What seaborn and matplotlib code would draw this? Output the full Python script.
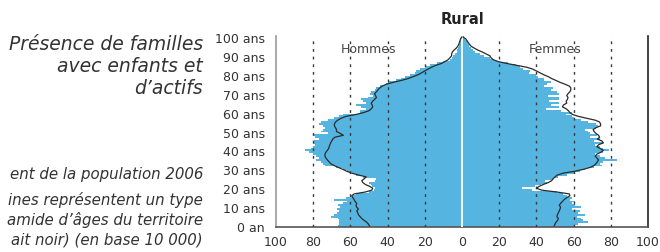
import matplotlib
matplotlib.use("Agg")
import matplotlib.pyplot as plt
import seaborn as sns
import pandas as pd

ages = list(range(101))

hommes = [66.5, 66, 66, 66, 66.5, 70.5, 68.8, 67.4, 66, 67,
          65.6, 66.5, 63.8, 62, 68.6, 62.3, 59.3, 57, 50, 47.5,
          47, 48.5, 49, 50, 47, 46.5, 53, 57, 59, 62,
          64, 68, 73.5, 74.5, 76, 78.5, 77, 78.6, 80, 82,
          84.5, 81, 80, 79, 80, 79.5, 77, 79, 80, 72,
          76, 74.5, 73.5, 75, 77, 76, 72.3, 68.6, 66, 64,
          55, 55, 51.5, 54.2, 57, 51.5, 53.3, 54.2, 50.6, 48,
          49.7, 48.8, 47, 46, 44.3, 40.7, 39.8, 35.3, 32.6, 30.8,
          28, 25.4, 24.5, 22.7, 20, 17.3, 13.7, 10, 6.5, 5.6,
          4.7, 3.8, 2.9, 2.5, 2, 1.6, 1.4, 1.3, 1.1, 0.9, 0.7]

femmes = [60, 62.6, 68, 65.3, 64, 61.7, 66.2, 62.6, 63.5, 59,
          64, 60.8, 59, 60.8, 58, 59, 56.3, 54.5, 51, 37.4,
          32, 39.2, 42.3, 45.5, 44.6, 49, 51.8, 56.3, 60.8, 63.5,
          66.2, 70.7, 75.2, 74.3, 76, 83.3, 77, 74.3, 71.6, 76,
          78.8, 76, 74.3, 71.6, 76, 70.7, 74.3, 68.9, 72.5, 68.9,
          68, 66, 72, 73, 72, 68, 64, 60, 59, 56,
          59, 53, 45, 52, 48, 52, 47, 52, 52, 46,
          52, 51, 48, 49, 44, 45.5, 48, 44, 44, 41,
          40, 36, 36.5, 33, 31, 29, 25, 20, 17, 15,
          12, 9.5, 7, 6, 5, 4, 3.5, 3, 2.5, 1.5, 1]

hommes_ref = [49.7, 50.3, 51.2, 52.6, 53.9, 54.8, 55.7, 56, 56.6, 55.7,
              56.6, 57, 56.6, 57.5, 58, 58.7, 59.3, 58, 52, 48.5,
              48, 49.7, 52, 53.3, 53.9, 52.6, 51.5, 55.7, 59.3, 62,
              64.1, 66.5, 68.8, 70.6, 71.5, 72.4, 73.2, 73.7, 73.7, 73.2,
              72.4, 71.7, 71.4, 71, 70.6, 70, 69.5, 68.3, 63.8, 65.5,
              67.5, 67.5, 68, 68.6, 68.6, 68, 66.8, 65, 62.3, 57,
              53, 50, 48.8, 48, 48.3, 48.8, 48, 47, 46, 46.5,
              47, 46, 45.2, 44.3, 42.9, 40.7, 37, 32.6, 29, 26.3,
              23.6, 21.8, 20, 18.2, 16.4, 14, 11, 9.2, 7.4, 6.5,
              5.6, 5.6, 5.2, 4.3, 3.2, 2.3, 1.8, 1.4, 1.1, 0.7, 0.2]

femmes_ref = [49.5, 50, 50.5, 51.4, 51.8, 51, 51.3, 51.8, 52.3, 52.7,
              53, 52.3, 53, 54, 54.9, 56.3, 58, 57.7, 51, 42.8,
              40, 41.5, 43.7, 46.4, 48.2, 49, 50, 51.3, 54.5, 60.8,
              65.3, 68.9, 71, 72, 72.8, 73.4, 72.5, 71.6, 72.5, 74.6,
              76, 74.3, 72.5, 73.4, 76, 75.2, 72.8, 74, 73.4, 72,
              71, 70.5, 72, 74.5, 74.5, 74, 71.6, 67, 62.6, 59.5,
              58, 57.2, 56, 54, 54.5, 56.3, 56, 56.7, 57, 56.3,
              57, 58, 58.5, 58.5, 57.7, 55.4, 52.7, 50.5, 48.2, 46.4,
              44, 42, 40, 38, 34.7, 29.3, 24, 19.4, 16.7, 15.6,
              15, 13, 11, 8.6, 6.8, 5, 4.1, 3.4, 2.7, 2, 0.5]

xticks = [-100, -80, -60, -40, -20, 0, 20, 40, 60, 80, 100]
yticks = [0, 10, 20, 30, 40, 50, 60, 70, 80, 90, 100]
ylabels = ["0 an"] + [f"{v} ans" for v in yticks[1:]]

sns.set_theme(style="white")
plt.rcParams["font.family"] = ["DejaVu Sans"]

BLUE = "#55b5e0"
TXT = "#333333"

fig = plt.figure(figsize=(6.6, 2.53), dpi=100)
ax = fig.add_axes([276 / 660, 25 / 253, 372 / 660, 191 / 253])

df_h = pd.DataFrame({"age": ages, "val": [-v for v in hommes]})
df_f = pd.DataFrame({"age": ages, "val": femmes})
sns.barplot(data=df_h, x="val", y="age", orient="h", native_scale=True,
            width=1.0, color=BLUE, saturation=1, linewidth=0, ax=ax, zorder=1)
sns.barplot(data=df_f, x="val", y="age", orient="h", native_scale=True,
            width=1.0, color=BLUE, saturation=1, linewidth=0, ax=ax, zorder=1)

for v in [-80, -60, -40, -20, 20, 40, 60, 80]:
    ax.axvline(v, color="#3a3a3a", lw=1.0, ls=(0, (2, 3.5)), zorder=3)
ax.axvline(0, color="white", lw=1.3, zorder=4)

df_hr = pd.DataFrame({"age": ages, "val": [-v for v in hommes_ref]})
df_fr = pd.DataFrame({"age": ages, "val": femmes_ref})
sns.lineplot(data=df_hr, x="val", y="age", sort=False, estimator=None,
             color="#2b2b2b", lw=0.9, ax=ax, zorder=5)
sns.lineplot(data=df_fr, x="val", y="age", sort=False, estimator=None,
             color="#2b2b2b", lw=0.9, ax=ax, zorder=5)

ax.set_xlim(-100, 100)
ax.set_ylim(-0.5, 100.5)
ax.set_xticks(xticks)
ax.set_xticklabels([str(abs(v)) for v in xticks])
ax.set_yticks(yticks)
ax.set_yticklabels(ylabels)
ax.set_xlabel("")
ax.set_ylabel("")
ax.tick_params(axis="both", length=0, labelsize=9, labelcolor=TXT)
ax.tick_params(axis="y", pad=8)
ax.tick_params(axis="x", pad=6)
ax.grid(False)

ax.spines["top"].set_visible(False)
ax.spines["left"].set_color("#999999")
ax.spines["left"].set_linewidth(1.2)
ax.spines["bottom"].set_color("#555555")
ax.spines["bottom"].set_linewidth(1.2)
ax.spines["right"].set_color("#222222")
ax.spines["right"].set_linewidth(1.2)

ax.text(-50, 94, "Hommes", ha="center", va="center", fontsize=9, color="#444444", zorder=6)
ax.text(50, 94, "Femmes", ha="center", va="center", fontsize=9, color="#444444", zorder=6)

fig.text(463 / 660, 1 - 19 / 253, "Rural", ha="center", va="center",
         fontsize=10.5, fontweight="bold", color="#222222")

for txt, y in [("Présence de familles", 44), ("avec enfants et", 66), ("d’actifs", 88)]:
    fig.text(203 / 660, 1 - y / 253, txt, ha="right", va="center",
             fontsize=13.5, style="italic", color=TXT)

for txt, y in [("ent de la population 2006", 175), ("ines représentent un type", 200),
               ("amide d’âges du territoire", 220), ("ait noir) (en base 10 000)", 240)]:
    fig.text(203 / 660, 1 - y / 253, txt, ha="right", va="center",
             fontsize=10.8, style="italic", color=TXT)

fig.savefig("out.png", dpi=100)
